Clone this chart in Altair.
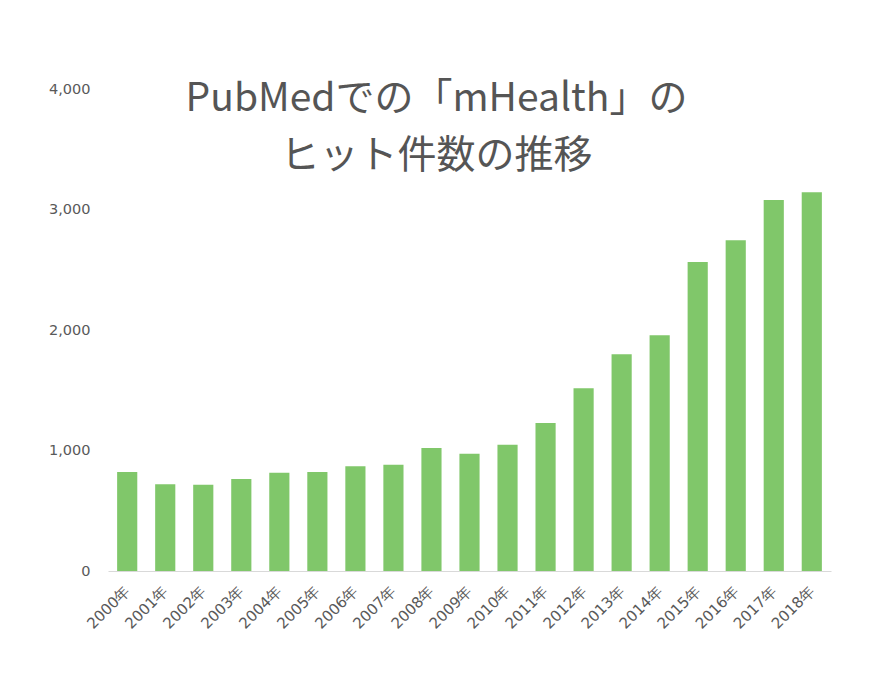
import altair as alt
import pandas as pd

years = ["2000年", "2001年", "2002年", "2003年", "2004年", "2005年", "2006年",
         "2007年", "2008年", "2009年", "2010年", "2011年", "2012年", "2013年",
         "2014年", "2015年", "2016年", "2017年", "2018年"]
hits = [822, 720, 716, 763, 816, 822, 869, 882, 1021, 973, 1048, 1228,
        1516, 1798, 1956, 2564, 2744, 3079, 3143]
title_lines = ["PubMedでの「mHealth」の", "ヒット件数の推移"]

df = pd.DataFrame({"year": years, "hits": hits})

chart = alt.Chart(df).mark_bar(color="#80C76A").encode(
    x=alt.X("year:N", sort=years, title=None,
            scale=alt.Scale(paddingInner=0.47, paddingOuter=0.24),
            axis=alt.Axis(labelAngle=-45, labelAlign="right", labelBaseline="middle",
                          labelFontSize=15, labelColor="#595959", labelFont="DejaVu Sans",
                          labelPadding=17, ticks=False, domainColor="#D9D9D9", domainWidth=1,
                          grid=False)),
    y=alt.Y("hits:Q", title=None,
            scale=alt.Scale(domain=[0, 4000], nice=False),
            axis=alt.Axis(values=[0, 1000, 2000, 3000, 4000], format=",d",
                          labelFontSize=14.5, labelColor="#595959", labelFont="DejaVu Sans",
                          labelPadding=18, ticks=False, domain=False, grid=False)),
).properties(
    width=723, height=482,
    title=alt.TitleParams(text=title_lines, fontSize=39, font="Noto Sans CJK JP",
                          fontWeight="normal", color="#555555", lineHeight=57,
                          anchor="middle", offset=0, dx=-33, dy=95),
    autosize=alt.AutoSizeParams(type="none"),
    padding={"left": 108, "top": 89, "right": 51, "bottom": 115},
    background="white",
).configure_view(strokeWidth=0, stroke=None)

chart.save("out.html", embed_options={"renderer": "svg", "actions": False})
